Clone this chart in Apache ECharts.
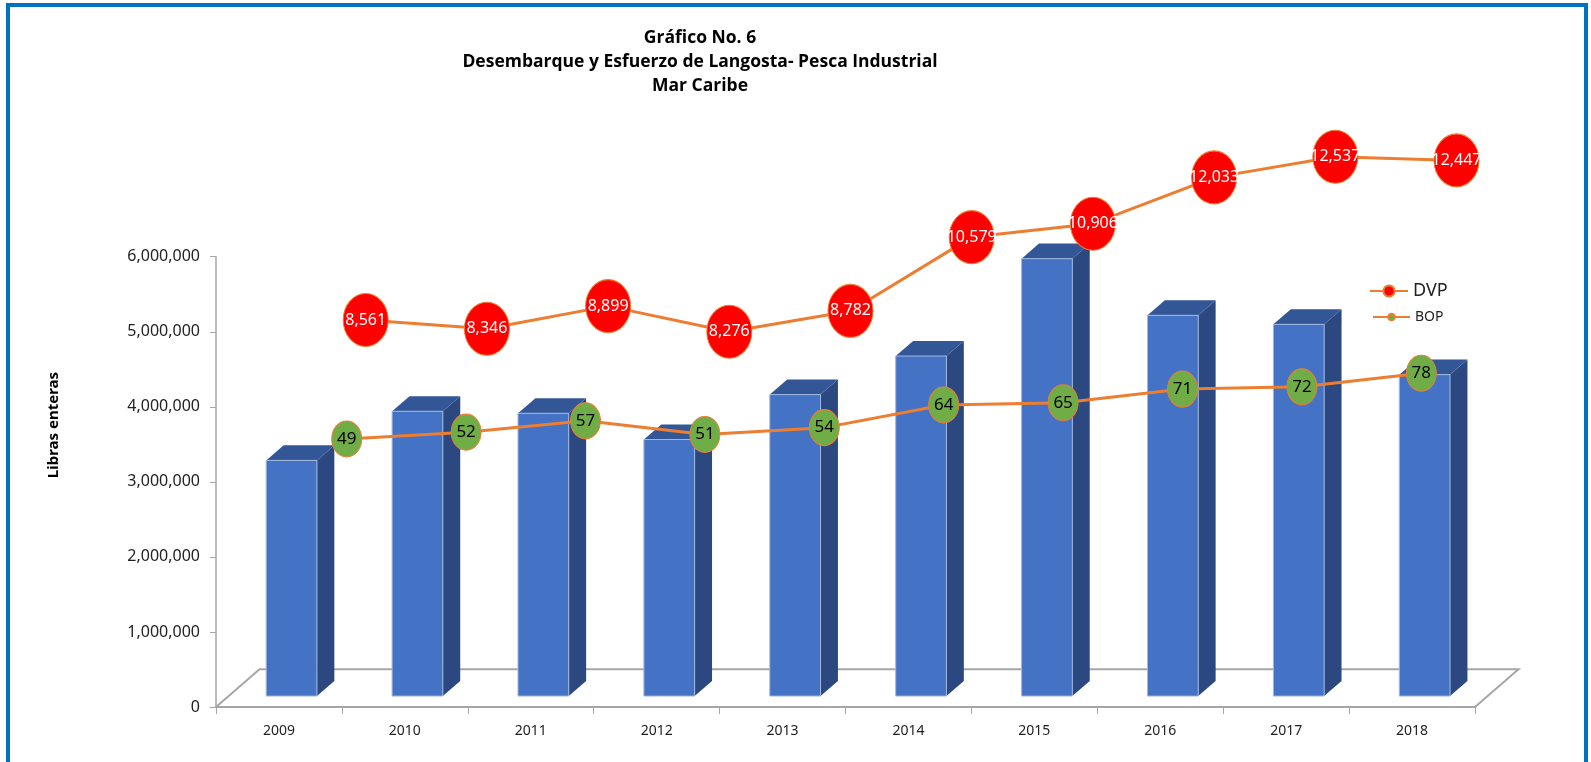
<!DOCTYPE html>
<html>
<head>
<meta charset="utf-8">
<script src="https://cdn.jsdelivr.net/npm/echarts@6/dist/echarts.min.js"></script>
<style>
  html, body { margin: 0; padding: 0; background: #fff; }
  #chart { width: 1591px; height: 762px; }
</style>
</head>
<body>
<div id="chart"></div>
<script>
var years = ['2009', '2010', '2011', '2012', '2013', '2014', '2015', '2016', '2017', '2018'];
var desembarque = [3140000, 3795000, 3768000, 3418000, 4017000, 4531000, 5828000, 5073000, 4953000, 4283000];
var dvp = [8561, 8346, 8899, 8276, 8782, 10579, 10906, 12033, 12537, 12447];
var bop = [49, 52, 57, 51, 54, 64, 65, 71, 72, 78];

var font = 'Noto Sans';
var myChart = echarts.init(document.getElementById('chart'));

// 3d look: floor depth vector and bar offsets
var floorLeft = 216, floorRight = 1475, floorY = 707;
var depthX = 43.5, depthY = -37.7;

function renderBar(params, api) {
  var top = api.coord([api.value(0), api.value(1)]);
  var base = api.coord([api.value(0), 0]);
  var bw = api.size([1, 0])[0] * 0.403;
  var fx = depthX * 0.29, fy = depthY * 0.29;
  var sx = depthX * 0.4, sy = depthY * 0.4;
  var x0 = top[0] - bw / 2 + fx, x1 = x0 + bw;
  var t = top[1] + fy, b = base[1] + fy;
  return {
    type: 'group',
    children: [
      { type: 'polygon', shape: { points: [[x1, t], [x1 + sx, t + sy], [x1 + sx, b + sy], [x1, b]] }, style: { fill: '#2B4880' } },
      { type: 'polygon', shape: { points: [[x0, t], [x1, t], [x1 + sx, t + sy], [x0 + sx, t + sy]] }, style: { fill: '#335796' } },
      { type: 'rect', shape: { x: x0, y: t, width: bw, height: b - t }, style: { fill: '#4472C4', stroke: '#A3B8E0', lineWidth: 1 } }
    ]
  };
}

var option = {
  animation: false,
  title: {
    text: 'Gráfico No. 6\nDesembarque y Esfuerzo de Langosta- Pesca Industrial\nMar Caribe',
    left: 700,
    top: 26,
    textAlign: 'center',
    padding: 0,
    textStyle: { fontFamily: 'Open Sans', fontWeight: 'bold', fontSize: 17.5, lineHeight: 24, color: '#000' }
  },
  legend: [
    {
      data: ['DVP'], left: 1364, top: 277, itemWidth: 38, itemHeight: 14,
      textStyle: { fontFamily: font, fontSize: 18, color: '#222' }
    },
    {
      data: ['BOP'], left: 1367, top: 305, itemWidth: 37, itemHeight: 8,
      textStyle: { fontFamily: font, fontSize: 14, color: '#222' }
    }
  ],
  grid: [
    { left: floorLeft, right: 1591 - floorRight, top: 256.7, bottom: 762 - floorY },
    { left: 305.1, right: 73.9, top: 96.6, bottom: 90.4 },
    { left: 287, right: 110, top: 323.4, bottom: 212 }
  ],
  xAxis: [
    {
      type: 'category', data: years, gridIndex: 0,
      axisLine: { lineStyle: { color: '#A6A6A6', width: 2 } },
      axisTick: { show: true, length: 7, interval: 0, lineStyle: { color: '#A6A6A6' } },
      axisLabel: { margin: 17, fontFamily: font, fontSize: 14, color: '#222' }
    },
    { type: 'category', data: years, gridIndex: 1, show: false },
    { type: 'category', data: years, gridIndex: 2, show: false }
  ],
  yAxis: [
    {
      type: 'value', gridIndex: 0, min: 0, max: 6000000, interval: 1000000,
      axisLine: { show: true, lineStyle: { color: '#A6A6A6', width: 1.5 } },
      axisTick: { show: true, length: 6, lineStyle: { color: '#A6A6A6' } },
      splitLine: { show: false },
      axisLabel: {
        margin: 16, fontFamily: font, fontSize: 16, color: '#222',
        formatter: function (v) { return v.toLocaleString('en-US'); }
      }
    },
    { type: 'value', gridIndex: 1, min: 0, max: 14000, show: false, splitLine: { show: false } },
    { type: 'value', gridIndex: 2, min: 0, max: 100, show: false, splitLine: { show: false } }
  ],
  graphic: [
    {
      type: 'polyline', z: 0,
      shape: { points: [[floorLeft, floorY], [floorLeft + depthX, floorY + depthY], [floorRight + depthX, floorY + depthY], [floorRight, floorY]] },
      style: { stroke: '#A6A6A6', lineWidth: 2, fill: null }
    },
    {
      type: 'text', x: 54, y: 425, rotation: Math.PI / 2,
      style: { text: 'Libras enteras', fontFamily: font, fontWeight: 'bold', fontSize: 15, fill: '#000', align: 'center', verticalAlign: 'middle' }
    },
    {
      type: 'rect', z: 10,
      shape: { x: 8, y: 5, width: 1578, height: 800 },
      style: { stroke: '#0070C0', lineWidth: 4, fill: null }
    }
  ],
  series: [
    {
      name: 'Desembarque',
      type: 'custom',
      xAxisIndex: 0, yAxisIndex: 0,
      renderItem: renderBar,
      encode: { x: 0, y: 1 },
      data: years.map(function (y, i) { return [i, desembarque[i]]; }),
      z: 2
    },
    {
      name: 'DVP',
      type: 'line',
      xAxisIndex: 1, yAxisIndex: 1,
      data: dvp,
      z: 3,
      symbol: 'circle',
      symbolSize: [45, 53],
      lineStyle: { color: '#ED7D31', width: 3 },
      itemStyle: { color: '#FF0000', borderColor: '#ED7D31', borderWidth: 1 },
      label: {
        show: true, position: 'inside', color: '#fff', fontFamily: font, fontSize: 16,
        formatter: function (p) { return p.value.toLocaleString('en-US'); }
      }
    },
    {
      name: 'BOP',
      type: 'line',
      xAxisIndex: 2, yAxisIndex: 2,
      data: bop,
      z: 4,
      symbol: 'circle',
      symbolSize: [30, 36],
      lineStyle: { color: '#ED7D31', width: 3 },
      itemStyle: { color: '#70AD47', borderColor: '#ED7D31', borderWidth: 1 },
      label: { show: true, position: 'inside', color: '#000', fontFamily: font, fontSize: 17 }
    }
  ]
};

myChart.setOption(option);
</script>
</body>
</html>
